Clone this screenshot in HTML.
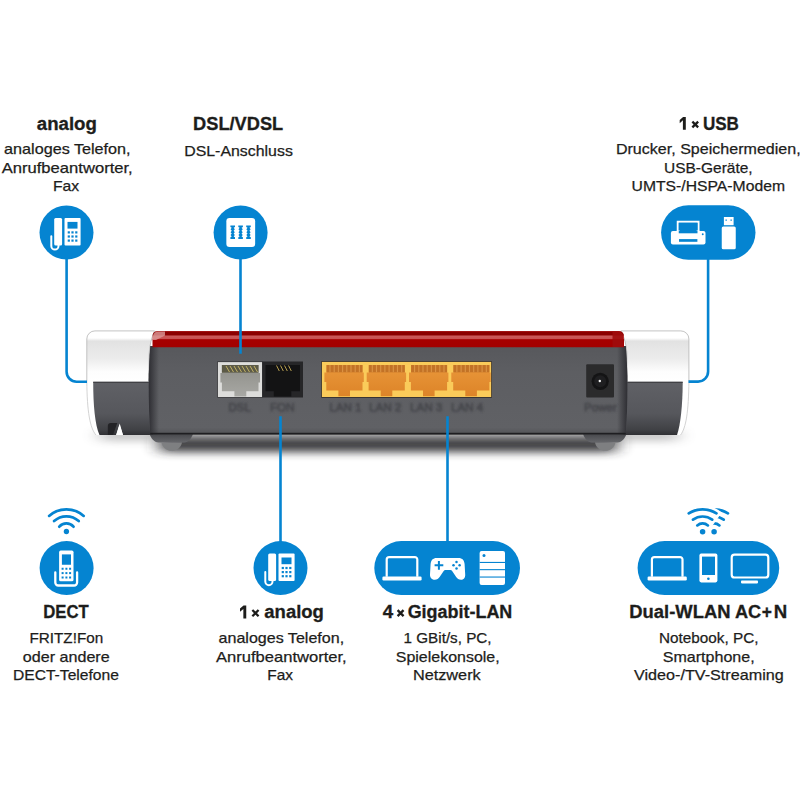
<!DOCTYPE html>
<html><head><meta charset="utf-8"><title>FRITZ!Box Anschl&uuml;sse</title>
<style>
html,body{margin:0;padding:0;background:#fff;}
body{width:800px;height:800px;overflow:hidden;position:relative;font-family:"Liberation Sans",sans-serif;}
svg{position:absolute;left:0;top:0;}
text{font-family:"Liberation Sans",sans-serif;fill:#1d1d1b;}
.h{font-weight:bold;font-size:18px;stroke:#1d1d1b;stroke-width:0.3px;}
.b{font-size:15px;stroke:#1d1d1b;stroke-width:0.25px;}
.pl{font-size:11.5px;fill:#3c3d42;text-anchor:middle;stroke:#3c3d42;stroke-width:0.5px;}
</style></head>
<body>
<svg width="800" height="800" viewBox="0 0 800 800">
<defs>
<filter id="blur5" x="-10%" y="-200%" width="120%" height="500%"><feGaussianBlur stdDeviation="9 4.5"/></filter>
<filter id="blur4" x="-10%" y="-200%" width="120%" height="500%"><feGaussianBlur stdDeviation="9 4"/></filter>
<filter id="blur1"><feGaussianBlur stdDeviation="0.85"/></filter>
<linearGradient id="gBody" x1="0" y1="0" x2="0" y2="1"><stop offset="0" stop-color="#57585c"/><stop offset="0.3" stop-color="#5d5e62"/><stop offset="0.92" stop-color="#606165"/><stop offset="1" stop-color="#525357"/></linearGradient>
<linearGradient id="gCapW" x1="0" y1="0" x2="0" y2="1"><stop offset="0" stop-color="#ffffff"/><stop offset="0.14" stop-color="#ffffff"/><stop offset="0.2" stop-color="#e2e2e2"/><stop offset="0.55" stop-color="#ececec"/><stop offset="0.8" stop-color="#fdfdfd"/><stop offset="1" stop-color="#ffffff"/></linearGradient>
<linearGradient id="gCapD" x1="0" y1="0" x2="0" y2="1"><stop offset="0" stop-color="#606166"/><stop offset="0.6" stop-color="#56575c"/><stop offset="0.9" stop-color="#404145"/><stop offset="1" stop-color="#303034"/></linearGradient>
<linearGradient id="gRed" x1="0" y1="0" x2="0" y2="1"><stop offset="0" stop-color="#b22222"/><stop offset="0.07" stop-color="#8c0000"/><stop offset="0.25" stop-color="#8c0000"/><stop offset="0.3" stop-color="#cc5a5a"/><stop offset="0.48" stop-color="#c85050"/><stop offset="0.53" stop-color="#a60000"/><stop offset="1" stop-color="#a20000"/></linearGradient>
<linearGradient id="gEdgeL" x1="0" y1="0" x2="1" y2="0"><stop offset="0" stop-color="#2e2e33"/><stop offset="1" stop-color="#2e2e33" stop-opacity="0"/></linearGradient>
<linearGradient id="gEdgeR" x1="1" y1="0" x2="0" y2="0"><stop offset="0" stop-color="#2e2e33"/><stop offset="1" stop-color="#2e2e33" stop-opacity="0"/></linearGradient>
<linearGradient id="gDsl" x1="0" y1="0" x2="0" y2="1"><stop offset="0" stop-color="#8e8e88"/><stop offset="1" stop-color="#a8a8a4"/></linearGradient>
<linearGradient id="gLan" x1="0" y1="0" x2="0" y2="1"><stop offset="0" stop-color="#e9973a"/><stop offset="1" stop-color="#dd8428"/></linearGradient>
<linearGradient id="gFootD" x1="0" y1="0" x2="0" y2="1"><stop offset="0" stop-color="#47484c"/><stop offset="1" stop-color="#66676b"/></linearGradient>
</defs>
<!-- shadow -->
<rect x="100" y="431" width="578" height="9" fill="#3a3a3d" filter="url(#blur5)" opacity="0.35"/>
<rect x="160" y="437" width="456" height="15" fill="#2e2e30" filter="url(#blur4)" opacity="0.92"/>
<!-- feet -->
<g id="foot">
<path d="M149.500 434h43.500c-1.500 4-4.500 8.500-9 8.500h-25.500c-4.500 0-7.500-4.500-9-8.500z" fill="url(#gFootD)"/>
<path d="M161.500 442.500h20.500c-1 5-5 8.300-10.250 8.300s-9.250-3.300-10.250-8.300z" fill="#7e7f81"/>
</g>
<use href="#foot" x="433.500" y="0"/>
<!-- left cap -->
<path d="M95 330.900H154.500C151.500 338 149.800 345 149.300 352L148.500 381.800H86.800V339a8.100 8.100 0 0 1 8.200 -8.100z" fill="url(#gCapW)" stroke="#b4b4b4" stroke-width="0.8"/>
<path d="M86.800 381H150V435H96C90 428 87.100 412 86.800 381z" fill="#fff"/>
<path d="M86.800 381C87.100 412 90 428 96 435" fill="none" stroke="#c8c8c8" stroke-width="0.800"/>
<path d="M93.200 381.800H153V435H123L119.500 424.500L116 435H99.500C95 425 93.200 405 93.200 381.800z" fill="url(#gCapD)"/>
<path d="M107.800 435V426a3 3 0 0 1 3 -3h6.500L113 435z" fill="#232326"/>
<path d="M116.400 435L119.700 423.500L123 435z" fill="#fff"/>
<rect x="93.200" y="381.800" width="57" height="1" fill="#3a3a3e"/>
<!-- right cap -->
<path d="M680.800 330.900H621C624.500 338 626.300 345 626.800 352L627.200 381.800H688.900V339a8.100 8.100 0 0 0 -8.100 -8.100z" fill="url(#gCapW)" stroke="#b4b4b4" stroke-width="0.800"/>
<path d="M688.900 381H626V435H680.500C686 428 688.600 412 688.900 381z" fill="#fff"/>
<path d="M688.900 381C688.600 412 686 428 680.500 435" fill="none" stroke="#c8c8c8" stroke-width="0.800"/>
<path d="M682.700 381.800H623V435H677C680.500 425 682.700 405 682.700 381.800z" fill="url(#gCapD)"/>
<rect x="627.200" y="381.800" width="55.500" height="1" fill="#3a3a3e"/>
<!-- body -->
<path d="M150.300 346C149.300 358 148.700 372 148.700 386C148.700 404 149.300 420 150.200 434.500H625.800C626.800 420 627.400 404 627.400 386C627.400 372 626.800 358 625.800 346z" fill="url(#gBody)"/>
<path d="M150.300 346C149.300 358 148.700 372 148.700 386C148.700 404 149.300 420 150.200 434.500H159V346z" fill="url(#gEdgeL)"/>
<path d="M625.800 346C626.800 358 627.400 372 627.400 386C627.400 404 626.800 420 625.800 434.500H617V346z" fill="url(#gEdgeR)"/>
<rect x="150.200" y="432.800" width="475.600" height="1.700" fill="#1e1e21"/>
<!-- red stripe -->
<path d="M152.500 347.300v-11.300a5 5 0 0 1 5 -5h461.500a5 5 0 0 1 5 5v11.300z" fill="url(#gRed)"/>
<path d="M153 340v-3.500a5 5 0 0 1 5 -5h7v4l-9 4.500z" fill="#dc9a98" opacity="0.8"/>
<path d="M623.500 347v-10.500a5 5 0 0 0 -5 -5h-6v15.500z" fill="#a00c0c" opacity="0.9"/>
<!-- DSL port -->
<rect x="217.300" y="361.500" width="45.400" height="36" fill="#2a2a2c"/>
<rect x="217.900" y="362.100" width="44.300" height="34.900" fill="#dddddb"/>
<path d="M221.900 365h36.600v8h1.500v9.500h-1.500v8.800h-12.200v5.200h-11.900v-5.200h-12.500v-8.800h-1.500v-9.500h1.500z" fill="url(#gDsl)"/>
<rect x="221.900" y="365" width="36.600" height="7.600" fill="#5c5a47"/>
<g stroke="#d2c06a" stroke-width="0.85" fill="none"><path d="M226 366l3.500 6M230 366l3.500 6M234 366l3.500 6M238 366l3.500 6M242 366l3.500 6M246 366l3.500 6M250 366l3.500 6M254 366l3.500 6"/></g>
<!-- FON port -->
<rect x="262.200" y="361.500" width="40.800" height="36" fill="#262628"/>
<path d="M265.500 365h34.500v26.300h-8.700v5.200h-17.500v-5.200h-8.300z" fill="#131314"/>
<g stroke="#b8a050" stroke-width="1" fill="none"><path d="M276.500 365.500l2.800 5.500M280.500 365.500l2.800 5.500M284.500 365.500l2.800 5.500M288.500 365.500l2.800 5.500"/></g>
<!-- LAN block -->
<rect x="321.300" y="361.300" width="170.500" height="36.400" fill="#2a2420"/>
<rect x="321.900" y="361.900" width="169.300" height="35.100" fill="#facb5a"/>
<g id="lanp">
<path d="M326.500 365h36v7.500h1.300v9.400h-1.300v8.500h-12.500v5.900h-11.600v-5.900h-12.100v-8.500h-1.900v-9.400h2.100z" fill="url(#gLan)"/>
<rect x="326.500" y="365" width="36" height="7.300" fill="#c27226"/>
<g stroke="#dc9444" stroke-width="1.100" fill="none"><path d="M330 365v7.300M334.200 365v7.300M338.400 365v7.300M342.600 365v7.300M346.800 365v7.300M351 365v7.300M355.200 365v7.300M359.400 365v7.300"/></g>
</g>
<use href="#lanp" x="42.300"/>
<use href="#lanp" x="84.600"/>
<use href="#lanp" x="126.900"/>
<!-- power -->
<rect x="586.200" y="364.200" width="27.800" height="33.400" rx="1" fill="#2b2b2c"/>
<circle cx="600.200" cy="381.300" r="8.600" fill="#141415"/>
<circle cx="600.200" cy="381.300" r="6" fill="#1f1f21"/>
<circle cx="599.800" cy="381" r="1.200" fill="#f4f4f4"/>
<!-- port labels -->
<g filter="url(#blur1)" opacity="0.72">
<text x="240.1" y="411.9" class="pl" style="fill:#696a6f;opacity:0.55">DSL</text>
<text x="282.9" y="411.9" class="pl" style="fill:#696a6f;opacity:0.55">FON</text>
<text x="346.0" y="411.9" class="pl" style="fill:#696a6f;opacity:0.55">LAN 1</text>
<text x="385.8" y="411.9" class="pl" style="fill:#696a6f;opacity:0.55">LAN 2</text>
<text x="426.8" y="411.9" class="pl" style="fill:#696a6f;opacity:0.55">LAN 3</text>
<text x="467.7" y="411.9" class="pl" style="fill:#696a6f;opacity:0.55">LAN 4</text>
<text x="601.0" y="411.9" class="pl" style="fill:#696a6f;opacity:0.55">Power</text>
<text x="239.4" y="411.2" class="pl">DSL</text>
<text x="282.2" y="411.2" class="pl">FON</text>
<text x="345.3" y="411.2" class="pl">LAN 1</text>
<text x="385.1" y="411.2" class="pl">LAN 2</text>
<text x="426.1" y="411.2" class="pl">LAN 3</text>
<text x="467.0" y="411.2" class="pl">LAN 4</text>
<text x="600.3" y="411.2" class="pl">Power</text>
</g>

<g fill="none" stroke="#0584d1" stroke-width="2.6">
<path d="M66.6 258V371.700a10 10 0 0 0 10 10H87"/>
<path d="M240.5 258V353.75"/>
<path d="M708.1 258V371.600a10 10 0 0 1 -10 10H688.500"/>
<path d="M280.5 416.25V545"/>
<path d="M447.5 416.25V545"/>
</g>
<g fill="#0584d1">
<circle cx="66.5" cy="232.5" r="27"/>
<circle cx="240.6" cy="232.5" r="27"/>
<rect x="661.1" y="205.2" width="94.4" height="54.5" rx="27.25"/>
<circle cx="66.6" cy="568.1" r="27"/>
<circle cx="280.5" cy="568.1" r="27"/>
<rect x="374.3" y="541.1" width="145.7" height="54" rx="27"/>
<rect x="637.6" y="541.1" width="141.6" height="54" rx="27"/>
</g>
<g transform="translate(0.00 0.00)"><rect x="54.2" y="218" width="7.9" height="27.5" rx="1.5" fill="#fff"/><path d="M51.3 236.3V246a3.6 3.6 0 0 0 7.2 0v-2" fill="none" stroke="#fff" stroke-width="2" stroke-linecap="round"/><rect x="64.5" y="218" width="16.1" height="27.4" rx="1" fill="#fff"/><rect x="67.5" y="221.9" width="10" height="6.7" fill="#0584d1"/><rect x="67.70" y="231.30" width="2.2" height="2.2" fill="#0584d1"/><rect x="67.70" y="235.40" width="2.2" height="2.2" fill="#0584d1"/><rect x="67.70" y="239.50" width="2.2" height="2.2" fill="#0584d1"/><rect x="71.40" y="231.30" width="2.2" height="2.2" fill="#0584d1"/><rect x="71.40" y="235.40" width="2.2" height="2.2" fill="#0584d1"/><rect x="71.40" y="239.50" width="2.2" height="2.2" fill="#0584d1"/><rect x="75.20" y="231.30" width="2.2" height="2.2" fill="#0584d1"/><rect x="75.20" y="235.40" width="2.2" height="2.2" fill="#0584d1"/><rect x="75.20" y="239.50" width="2.2" height="2.2" fill="#0584d1"/></g>
<g transform="translate(214.00 335.60)"><rect x="54.2" y="218" width="7.9" height="27.5" rx="1.5" fill="#fff"/><path d="M51.3 236.3V246a3.6 3.6 0 0 0 7.2 0v-2" fill="none" stroke="#fff" stroke-width="2" stroke-linecap="round"/><rect x="64.5" y="218" width="16.1" height="27.4" rx="1" fill="#fff"/><rect x="67.5" y="221.9" width="10" height="6.7" fill="#0584d1"/><rect x="67.70" y="231.30" width="2.2" height="2.2" fill="#0584d1"/><rect x="67.70" y="235.40" width="2.2" height="2.2" fill="#0584d1"/><rect x="67.70" y="239.50" width="2.2" height="2.2" fill="#0584d1"/><rect x="71.40" y="231.30" width="2.2" height="2.2" fill="#0584d1"/><rect x="71.40" y="235.40" width="2.2" height="2.2" fill="#0584d1"/><rect x="71.40" y="239.50" width="2.2" height="2.2" fill="#0584d1"/><rect x="75.20" y="231.30" width="2.2" height="2.2" fill="#0584d1"/><rect x="75.20" y="235.40" width="2.2" height="2.2" fill="#0584d1"/><rect x="75.20" y="239.50" width="2.2" height="2.2" fill="#0584d1"/></g>
<rect x="226.35" y="218.1" width="28.8" height="28.9" rx="3.2" fill="#fff"/><polygon points="235.00,225.40 235.00,227.00 233.65,227.75 234.85,229.20 233.65,230.68 234.85,232.15 233.65,233.62 234.85,235.10 233.65,236.55 235.00,237.30 235.00,238.90 230.40,238.90 230.40,237.30 231.75,236.55 230.55,235.10 231.75,233.62 230.55,232.15 231.75,230.68 230.55,229.20 231.75,227.75 230.40,227.00 230.40,225.40" fill="#0584d1"/><polygon points="242.90,225.40 242.90,227.00 241.55,227.75 242.75,229.20 241.55,230.68 242.75,232.15 241.55,233.62 242.75,235.10 241.55,236.55 242.90,237.30 242.90,238.90 238.30,238.90 238.30,237.30 239.65,236.55 238.45,235.10 239.65,233.62 238.45,232.15 239.65,230.68 238.45,229.20 239.65,227.75 238.30,227.00 238.30,225.40" fill="#0584d1"/><polygon points="250.80,225.40 250.80,227.00 249.45,227.75 250.65,229.20 249.45,230.68 250.65,232.15 249.45,233.62 250.65,235.10 249.45,236.55 250.80,237.30 250.80,238.90 246.20,238.90 246.20,237.30 247.55,236.55 246.35,235.10 247.55,233.62 246.35,232.15 247.55,230.68 246.35,229.20 247.55,227.75 246.20,227.00 246.20,225.40" fill="#0584d1"/>
<rect x="677.75" y="221.75" width="20.75" height="13" fill="none" stroke="#fff" stroke-width="2"/><rect x="670.9" y="231" width="34.6" height="13.5" rx="2" fill="#fff"/><rect x="678.75" y="222.75" width="18.75" height="9" fill="#0584d1"/><rect x="676.75" y="230.5" width="2.9" height="3" fill="#fff"/><rect x="696.6" y="230.5" width="2.9" height="3" fill="#fff"/><rect x="678.75" y="231" width="18.75" height="2.3" fill="#0584d1"/><rect x="679" y="239.1" width="18.4" height="2.7" fill="#0584d1"/><circle cx="702.75" cy="234.3" r="0.95" fill="#0584d1"/><rect x="723.9" y="217" width="9.7" height="8.2" fill="#fff"/><rect x="725.5" y="219.5" width="1.3" height="1.3" fill="#0584d1"/><rect x="730.5" y="219.5" width="1.3" height="1.3" fill="#0584d1"/><rect x="721.75" y="226.4" width="14" height="22.9" rx="1.6" fill="#fff"/>
<circle cx="66.4" cy="531.5" r="2.65" fill="#0584d1"/><path d="M59.30 526.70A9.29 9.29 0 0 1 73.50 526.70M54.10 521.10A18.16 18.16 0 0 1 78.70 521.10M49.10 515.90A25.97 25.97 0 0 1 83.70 515.90" fill="none" stroke="#0584d1" stroke-width="2.7" stroke-linecap="round"/>
<rect x="59.1" y="550.6" width="14.4" height="30.65" rx="1.6" fill="#fff"/><rect x="61.9" y="554.4" width="9.1" height="10.35" fill="#0584d1"/><rect x="61.60" y="567.75" width="2" height="2" fill="#0584d1"/><rect x="61.60" y="572.10" width="2" height="2" fill="#0584d1"/><rect x="61.60" y="576.50" width="2" height="2" fill="#0584d1"/><rect x="65.40" y="567.75" width="2" height="2" fill="#0584d1"/><rect x="65.40" y="572.10" width="2" height="2" fill="#0584d1"/><rect x="65.40" y="576.50" width="2" height="2" fill="#0584d1"/><rect x="69.10" y="567.75" width="2" height="2" fill="#0584d1"/><rect x="69.10" y="572.10" width="2" height="2" fill="#0584d1"/><rect x="69.10" y="576.50" width="2" height="2" fill="#0584d1"/><path d="M55.3 572.4V582.5a3 3 0 0 0 3 3H74.1a3 3 0 0 0 3 -3V572.4" fill="none" stroke="#fff" stroke-width="2.3" stroke-linecap="round"/>
<g transform="translate(0.00 0.00)"><path d="M386.7 576.8V559.6a2.5 2.5 0 0 1 2.5 -2.5h25.600a2.5 2.5 0 0 1 2.5 2.5V576.8" fill="none" stroke="#fff" stroke-width="2.2"/><rect x="382.4" y="576.6" width="39.2" height="3.8" rx="1.2" fill="#fff"/></g>
<path d="M436.8 557.9H458.4C462.5 557.9 464.2 560 464.6 564L465.2 574.5C465.4 578 463.5 579.8 461 579.8C458.8 579.8 457.3 578.8 456 576.8L452.3 571.2C451.8 570.4 451.2 570 450.3 570H445.5C444.6 570 444 570.4 443.500 571.2L439.8 576.8C438.500 578.8 437 579.8 434.8 579.8C432.300 579.8 429.8 578 430 574.500L430.600 564C431 560 432.700 557.9 436.8 557.9Z" fill="#fff"/><path d="M438.9 561v8.700M434.600 565.350h8.700" stroke="#0584d1" stroke-width="2" fill="none"/><circle cx="456.5" cy="562.1" r="1.25" fill="#0584d1"/><circle cx="456.5" cy="568.45" r="1.25" fill="#0584d1"/><circle cx="453.5" cy="565.35" r="1.25" fill="#0584d1"/><circle cx="459.6" cy="565.35" r="1.25" fill="#0584d1"/><rect x="479.6" y="551" width="25.4" height="34" rx="2" fill="#fff"/><rect x="479.6" y="561.9" width="25.4" height="1.1" fill="#0584d1"/><rect x="479.6" y="569.1" width="25.4" height="1.1" fill="#0584d1"/><rect x="479.6" y="576.5" width="25.4" height="1.1" fill="#0584d1"/><circle cx="484" cy="555.6" r="1.5" fill="#0584d1"/>
<circle cx="714.1" cy="531.7" r="2.75" fill="#0584d1"/><path d="M708.80 525.40A8.02 8.02 0 0 1 719.40 525.40M704.50 519.60A16.41 16.41 0 0 1 723.70 519.60M700.25 513.30A25.98 25.98 0 0 1 727.95 513.30" fill="none" stroke="#0584d1" stroke-width="2.7" stroke-linecap="round"/>
<path d="M702.55 539.85L721.80 512.42A29.9 29.9 0 0 0 683.30 512.42Z" fill="#fff"/>
<circle cx="702.6" cy="531.7" r="2.75" fill="#0584d1"/><path d="M697.30 525.40A8.02 8.02 0 0 1 707.90 525.40M693.00 519.60A16.41 16.41 0 0 1 712.20 519.60M688.75 513.30A25.98 25.98 0 0 1 716.45 513.30" fill="none" stroke="#0584d1" stroke-width="2.7" stroke-linecap="round"/>
<g transform="translate(265.20 0.00)"><path d="M386.7 576.8V559.6a2.5 2.5 0 0 1 2.5 -2.5h25.600a2.5 2.5 0 0 1 2.5 2.5V576.8" fill="none" stroke="#fff" stroke-width="2.2"/><rect x="382.4" y="576.6" width="39.2" height="3.8" rx="1.2" fill="#fff"/></g>
<rect x="699.4" y="553.6" width="18" height="28.8" rx="1.8" fill="#fff"/><rect x="702" y="556.6" width="13" height="18.4" fill="#0584d1"/><circle cx="708.4" cy="578.7" r="1.3" fill="#0584d1"/><rect x="731.7" y="554.7" width="36.600" height="22.8" rx="2.8" fill="none" stroke="#fff" stroke-width="2.2"/><rect x="741" y="580.6" width="17" height="2.8" rx="0.8" fill="#fff"/>
<text x="36.83" y="130.00" class="h" textLength="60.07" lengthAdjust="spacingAndGlyphs">analog</text>
<text x="193.14" y="130.00" class="h" textLength="90.03" lengthAdjust="spacingAndGlyphs">DSL/VDSL</text>
<path d="M685.80 116.90h-2.7l-3.40 3.1v3.2l3.20 -2.9V129.80h2.9z" fill="#1d1d1b"/>
<path d="M692.35 121.60L698.15 127.40M692.35 127.40L698.15 121.60" stroke="#1d1d1b" stroke-width="2.3" fill="none"/>
<text x="702.90" y="129.80" class="h" textLength="36.01" lengthAdjust="spacingAndGlyphs">USB</text>
<text x="43.24" y="618.40" class="h" textLength="45.51" lengthAdjust="spacingAndGlyphs">DECT</text>
<path d="M246.25 605.50h-2.7l-3.55 3.1v3.2l3.35 -2.9V618.40h2.9z" fill="#1d1d1b"/>
<path d="M252.35 610.00L258.55 616.20M252.35 616.20L258.55 610.00" stroke="#1d1d1b" stroke-width="2.3" fill="none"/>
<text x="264.34" y="618.40" class="h" textLength="59.55" lengthAdjust="spacingAndGlyphs">analog</text>
<text x="382.84" y="618.40" class="h" textLength="10.42" lengthAdjust="spacingAndGlyphs">4</text>
<path d="M397.60 610.12L403.55 616.08M397.60 616.08L403.55 610.12" stroke="#1d1d1b" stroke-width="2.3" fill="none"/>
<text x="407.65" y="618.40" class="h" textLength="104.68" lengthAdjust="spacingAndGlyphs">Gigabit-LAN</text>
<text x="629.32" y="618.40" class="h" textLength="101.13" lengthAdjust="spacingAndGlyphs">Dual-WLAN</text>
<text x="734.95" y="618.40" class="h" textLength="26.20" lengthAdjust="spacingAndGlyphs">AC</text>
<text x="761.87" y="618.40" class="h" textLength="10.17" lengthAdjust="spacingAndGlyphs">+</text>
<text x="773.80" y="618.40" class="h" textLength="13.49" lengthAdjust="spacingAndGlyphs">N</text>
<text x="4.05" y="153.75" class="b" textLength="126.56" lengthAdjust="spacingAndGlyphs">analoges Telefon,</text>
<text x="1.70" y="172.50" class="b" textLength="131.04" lengthAdjust="spacingAndGlyphs">Anrufbeantworter,</text>
<text x="52.94" y="190.60" class="b" textLength="26.22" lengthAdjust="spacingAndGlyphs">Fax</text>
<text x="184.18" y="155.50" class="b" textLength="108.69" lengthAdjust="spacingAndGlyphs">DSL-Anschluss</text>
<text x="615.92" y="153.75" class="b" textLength="184.75" lengthAdjust="spacingAndGlyphs">Drucker, Speichermedien,</text>
<text x="664.07" y="172.50" class="b" textLength="88.53" lengthAdjust="spacingAndGlyphs">USB-Geräte,</text>
<text x="631.55" y="190.60" class="b" textLength="153.45" lengthAdjust="spacingAndGlyphs">UMTS-/HSPA-Modem</text>
<text x="29.48" y="642.50" class="b" textLength="73.74" lengthAdjust="spacingAndGlyphs">FRITZ!Fon</text>
<text x="22.81" y="661.50" class="b" textLength="86.88" lengthAdjust="spacingAndGlyphs">oder andere</text>
<text x="12.95" y="680.00" class="b" textLength="105.99" lengthAdjust="spacingAndGlyphs">DECT-Telefone</text>
<text x="218.56" y="642.50" class="b" textLength="125.55" lengthAdjust="spacingAndGlyphs">analoges Telefon,</text>
<text x="215.95" y="661.50" class="b" textLength="130.79" lengthAdjust="spacingAndGlyphs">Anrufbeantworter,</text>
<text x="267.22" y="680.00" class="b" textLength="25.69" lengthAdjust="spacingAndGlyphs">Fax</text>
<text x="403.58" y="642.50" class="b" textLength="88.02" lengthAdjust="spacingAndGlyphs">1 GBit/s, PC,</text>
<text x="395.81" y="661.50" class="b" textLength="103.84" lengthAdjust="spacingAndGlyphs">Spielekonsole,</text>
<text x="412.90" y="680.00" class="b" textLength="67.81" lengthAdjust="spacingAndGlyphs">Netzwerk</text>
<text x="658.97" y="642.50" class="b" textLength="99.60" lengthAdjust="spacingAndGlyphs">Notebook, PC,</text>
<text x="662.81" y="661.50" class="b" textLength="91.86" lengthAdjust="spacingAndGlyphs">Smartphone,</text>
<text x="633.95" y="680.00" class="b" textLength="149.88" lengthAdjust="spacingAndGlyphs">Video-/TV-Streaming</text>
</svg>
</body></html>
